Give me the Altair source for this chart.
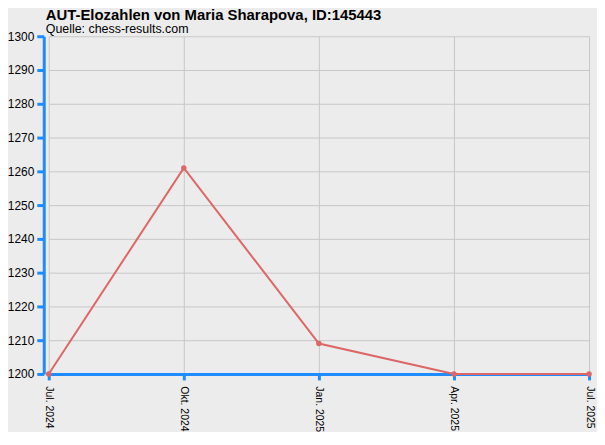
import altair as alt
import pandas as pd

dates = ["Jul. 2024", "Okt. 2024", "Jan. 2025", "Apr. 2025", "Jul. 2025"]
elo = [1200, 1261, 1209, 1200, 1200]
title_text = "AUT-Elozahlen von Maria Sharapova, ID:145443"
subtitle_text = "Quelle: chess-results.com"

df = pd.DataFrame({"datum": dates, "elo": elo})

blue = "#1E8CFF"
grid = "#C8C8C8"
font = "Liberation Sans"

base = alt.Chart(df).mark_line(
    color="#DD6666", strokeWidth=2,
    point=alt.OverlayMarkDef(color="#DD6666", size=30, filled=True, opacity=1)
).encode(
    x=alt.X("datum:O", sort=dates, title=None,
            scale=alt.Scale(type="point", range=[5, 549], padding=0),
            axis=alt.Axis(labelAngle=90, labelAlign="left", labelBaseline="middle",
                          labelFontSize=10.5, labelColor="#000000", labelPadding=6,
                          labelFont=font,
                          domainColor=blue, domainWidth=3, tickColor=blue, tickWidth=3,
                          tickSize=6, grid=True, gridColor=grid, gridWidth=1)),
    y=alt.Y("elo:Q", title=None,
            scale=alt.Scale(domain=[1200, 1300], nice=False, zero=False),
            axis=alt.Axis(values=list(range(1200, 1301, 10)), format="d", labelFontSize=12,
                          labelColor="#000000", labelPadding=3, labelFont=font,
                          domainColor=blue, domainWidth=3, tickColor=blue, tickWidth=3,
                          tickSize=7, grid=True, gridColor=grid, gridWidth=1)),
)

title = alt.Chart(pd.DataFrame({"t": [title_text]})).mark_text(
    align="left", baseline="alphabetic", fontSize=15, fontWeight="bold", font=font, color="#000000"
).encode(text="t:N", x=alt.value(2), y=alt.value(-16))

subtitle = alt.Chart(pd.DataFrame({"t": [subtitle_text]})).mark_text(
    align="left", baseline="alphabetic", fontSize=12.5, font=font, color="#000000"
).encode(text="t:N", x=alt.value(2), y=alt.value(-3))

chart = alt.layer(base, title, subtitle).properties(
    width=557, height=340,
    background="#ECECEC",
    autosize=alt.AutoSizeParams(type="none"),
    padding={"left": 36, "top": 27, "right": 0, "bottom": 57},
).configure_view(stroke=None)

chart.save("out.html", embed_options={"renderer": "svg", "actions": False})
